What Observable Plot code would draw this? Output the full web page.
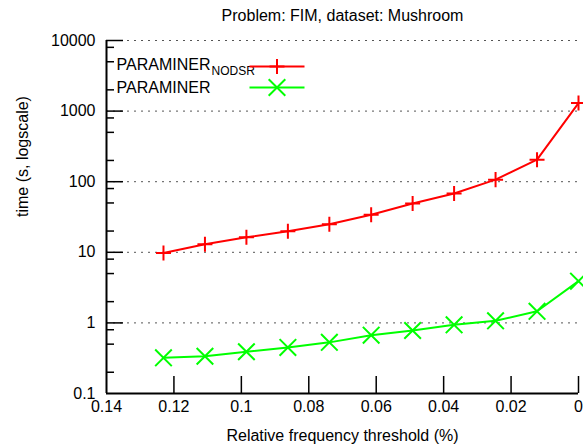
<!DOCTYPE html>
<html><head><meta charset="utf-8">
<script src="https://cdn.jsdelivr.net/npm/d3@7"></script>
<script src="https://cdn.jsdelivr.net/npm/@observablehq/plot@0.6"></script>
<style>
html,body{margin:0;padding:0;background:#fff;}
#chart svg{display:block;}
</style></head><body><div id="chart"></div>
<script>
// ---- data ----
const threshold = [0.1231, 0.1108, 0.0985, 0.0862, 0.0739, 0.0615, 0.0492, 0.0369, 0.0246, 0.0123, 0];
const paraminerNodsr = [9.8, 13, 16.3, 19.8, 25, 34, 49, 68, 107, 205, 1300];
const paraminer = [0.32, 0.337, 0.39, 0.45, 0.53, 0.67, 0.78, 0.94, 1.07, 1.46, 3.9];
const xTickValues = [0.14, 0.12, 0.1, 0.08, 0.06, 0.04, 0.02, 0];
const xTickLabels = ["0.14", "0.12", "0.1", "0.08", "0.06", "0.04", "0.02", "0"];
const yTickValues = [0.1, 1, 10, 100, 1000, 10000];
const yTickLabels = ["0.1", "1", "10", "100", "1000", "10000"];
const yMinorTicks = [0.2, 0.5, 0.8, 2, 5, 8, 20, 50, 80, 200, 500, 800, 2000, 5000, 8000];
const titleText = "Problem: FIM, dataset: Mushroom";
const xLabel = "Relative frequency threshold (%)";
const yLabel = "time (s, logscale)";
const seriesNames = ["PARAMINER", "PARAMINER"];
const seriesSubscripts = ["NODSR", ""];
const seriesColors = ["#ff0000", "#00ff00"];

const redRows = threshold.map((t, i) => ({t, v: paraminerNodsr[i]}));
const greenRows = threshold.map((t, i) => ({t, v: paraminer[i]}));

const font = "'Liberation Sans', Arial, Helvetica, sans-serif";
const legendLine = {draw(ctx) { ctx.moveTo(-27.5, 0); ctx.lineTo(27.5, 0); }};
const plusR = 4.9, timesR = 7.6;

const chart = Plot.plot({
  width: 583, height: 444,
  marginLeft: 106, marginRight: 5, marginTop: 40, marginBottom: 51,
  style: {fontFamily: font, fontSize: "16px", color: "black", background: "white"},
  x: {type: "linear", domain: [xTickValues[0], xTickValues[xTickValues.length - 1]], axis: null},
  y: {type: "log", domain: [yTickValues[0], yTickValues[yTickValues.length - 1]], axis: null},
  marks: [
    // grid
    Plot.ruleY(yTickValues.slice(1), {stroke: "#555", strokeDasharray: "2,5", strokeWidth: 1}),
    // axis lines
    Plot.ruleX([xTickValues[0]], {stroke: "black", strokeWidth: 2}),
    Plot.ruleY([yTickValues[0]], {stroke: "black", strokeWidth: 2}),
    // ticks (inward)
    Plot.axisY(yMinorTicks, {anchor: "left", tickSize: -8, fill: "none", label: null, strokeWidth: 1.5}),
    Plot.axisY(yTickValues.slice(1), {anchor: "left", tickSize: -17, fill: "none", label: null, strokeWidth: 1.5}),
    Plot.axisX(xTickValues.slice(1), {anchor: "bottom", tickSize: -17, fill: "none", label: null, strokeWidth: 1.5}),
    // tick labels
    Plot.axisY(yTickValues, {anchor: "left", tickSize: 0, tickPadding: 11, label: null, fontSize: 16,
      tickFormat: d => yTickLabels[yTickValues.indexOf(d)]}),
    Plot.axisX(xTickValues, {anchor: "bottom", tickSize: 0, tickPadding: 7, label: null, fontSize: 16,
      tickFormat: d => xTickLabels[xTickValues.indexOf(d)]}),
    // data
    Plot.line(redRows, {x: "t", y: "v", stroke: seriesColors[0], strokeWidth: 2}),
    Plot.dot(redRows, {x: "t", y: "v", symbol: "plus", r: plusR, stroke: seriesColors[0], strokeWidth: 2}),
    Plot.line(greenRows, {x: "t", y: "v", stroke: seriesColors[1], strokeWidth: 2}),
    Plot.dot(greenRows, {x: "t", y: "v", symbol: "times", r: timesR, stroke: seriesColors[1], strokeWidth: 2}),
    // legend
    Plot.text([seriesNames[0]], {text: d => d, frameAnchor: "top-left", lineAnchor: "middle", dx: 10, dy: 24.5, textAnchor: "start", fontSize: 16}),
    Plot.text([seriesSubscripts[0]], {text: d => d, frameAnchor: "top-left", lineAnchor: "middle", dx: 105, dy: 31, textAnchor: "start", fontSize: 12}),
    Plot.text([seriesNames[1]], {text: d => d, frameAnchor: "top-left", lineAnchor: "middle", dx: 10, dy: 47.5, textAnchor: "start", fontSize: 16}),
    Plot.dot([0], {frameAnchor: "top-left", dx: 170.5, dy: 26, symbol: legendLine, stroke: seriesColors[0], strokeWidth: 2}),
    Plot.dot([0], {frameAnchor: "top-left", dx: 170.5, dy: 26, symbol: "plus", r: plusR, stroke: seriesColors[0], strokeWidth: 2}),
    Plot.dot([0], {frameAnchor: "top-left", dx: 170.5, dy: 47, symbol: legendLine, stroke: seriesColors[1], strokeWidth: 2}),
    Plot.dot([0], {frameAnchor: "top-left", dx: 170.5, dy: 47, symbol: "times", r: timesR, stroke: seriesColors[1], strokeWidth: 2}),
    // title and axis labels
    Plot.text([titleText], {text: d => d, frameAnchor: "top", lineAnchor: "middle", dy: -25, fontSize: 16}),
    Plot.text([yLabel], {text: d => d, frameAnchor: "left", lineAnchor: "middle", dx: -84, rotate: -90, fontSize: 16}),
    Plot.text([xLabel], {text: d => d, frameAnchor: "bottom", lineAnchor: "middle", dy: 42, fontSize: 16})
  ]
});
document.getElementById("chart").appendChild(chart);
</script>
</body></html>
